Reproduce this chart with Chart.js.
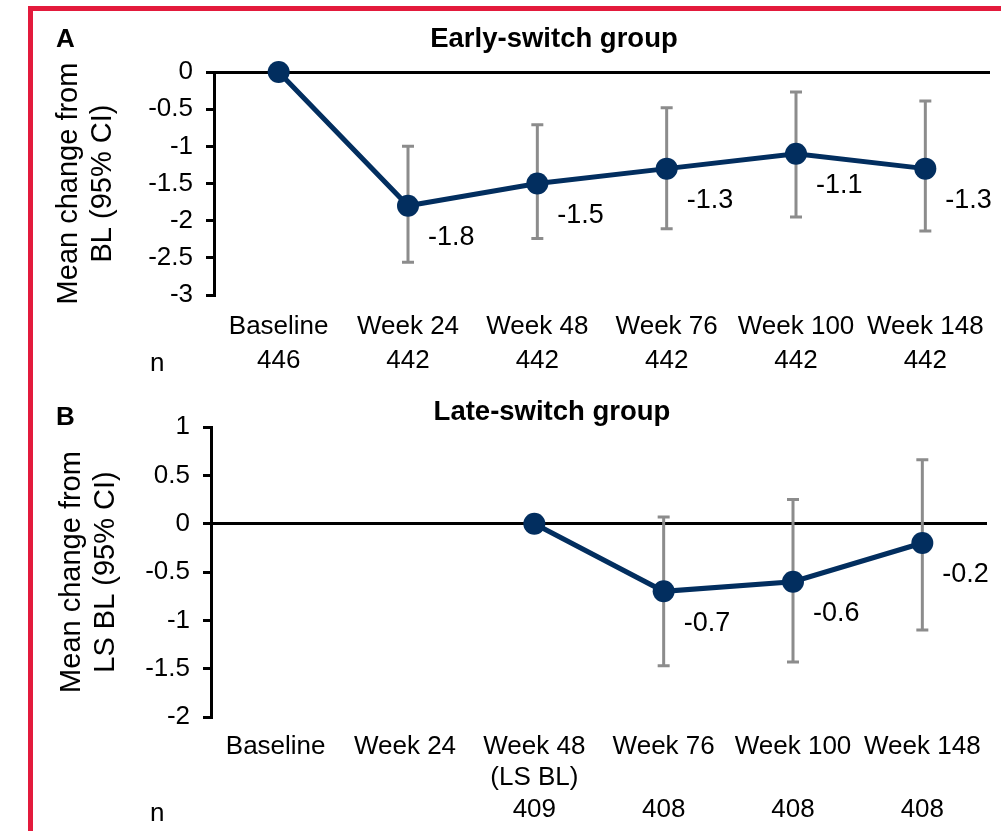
<!DOCTYPE html>
<html>
<head>
<meta charset="utf-8">
<script src="https://cdn.jsdelivr.net/npm/chart.js@4"></script>
<style>
  body { margin: 0; background: #fff; font-family: "Liberation Sans", Arial, sans-serif; }
  #page { position: relative; width: 1001px; height: 831px; overflow: hidden; }
  #frame {
    position: absolute; left: 28px; top: 6px; width: 1000px; height: 900px;
    border-left: 5px solid #e31a3c; border-top: 5px solid #e31a3c;
  }
  .box { position: absolute; left: 0; width: 1001px; }
  .txt { position: absolute; color: #000; line-height: 1; white-space: nowrap; }
  .bold { font-weight: bold; }
</style>
</head>
<body>
<div id="page">
  <div id="frame"></div>
  <div class="box" style="top:0;height:390px"><canvas id="chartA"></canvas></div>
  <div class="box" style="top:390px;height:441px"><canvas id="chartB"></canvas></div>

  <div class="txt bold" style="left:56px;top:25px;font-size:26px">A</div>
  <div class="txt bold" style="left:554px;top:24px;font-size:27.5px;transform:translateX(-50%)">Early-switch group</div>
  <div class="txt" style="left:150px;top:349px;font-size:26px">n</div>

  <div class="txt bold" style="left:56px;top:403px;font-size:26px">B</div>
  <div class="txt bold" style="left:552px;top:397px;font-size:27.5px;transform:translateX(-50%)">Late-switch group</div>
  <div class="txt" style="left:150px;top:799px;font-size:26px">n</div>
</div>

<script>
// panel A: early-switch group
const categoriesA = ["Baseline", "Week 24", "Week 48", "Week 76", "Week 100", "Week 148"];
const nA = ["446", "442", "442", "442", "442", "442"];
const meanA = [0, -1.8, -1.5, -1.3, -1.1, -1.3];
const lowerA = [null, -2.56, -2.24, -2.11, -1.95, -2.14];
const upperA = [null, -1.0, -0.71, -0.48, -0.27, -0.39];

// panel B: late-switch group
const categoriesB = ["Baseline", "Week 24", "Week 48", "Week 76", "Week 100", "Week 148"];
const subLabelsB = ["", "", "(LS BL)", "", "", ""];
const nB = ["", "", "409", "408", "408", "408"];
const meanB = [null, null, 0, -0.7, -0.6, -0.2];
const lowerB = [null, null, null, -1.47, -1.43, -1.10];
const upperB = [null, null, null, 0.07, 0.25, 0.66];

const FONT = "'Liberation Sans', Arial, sans-serif";
const NAVY = "#022e5f";
const GREY = "#8c8c8c";

const errorBars = {
  id: "errorBars",
  beforeDatasetsDraw(chart, args, opts) {
    const { ctx } = chart;
    const x = chart.scales.x;
    const y = chart.scales.y;
    ctx.save();
    ctx.strokeStyle = GREY;
    ctx.lineWidth = 3;
    opts.lower.forEach((lo, i) => {
      const hi = opts.upper[i];
      if (lo === null || hi === null) return;
      const px = x.getPixelForValue(i);
      const y1 = y.getPixelForValue(lo);
      const y2 = y.getPixelForValue(hi);
      ctx.beginPath();
      ctx.moveTo(px, y1);
      ctx.lineTo(px, y2);
      ctx.moveTo(px - 6, y1);
      ctx.lineTo(px + 6, y1);
      ctx.moveTo(px - 6, y2);
      ctx.lineTo(px + 6, y2);
      ctx.stroke();
    });
    ctx.restore();
  },
};

const valueLabels = {
  id: "valueLabels",
  afterDatasetsDraw(chart, args, opts) {
    const { ctx } = chart;
    const meta = chart.getDatasetMeta(0);
    const data = chart.data.datasets[0].data;
    ctx.save();
    ctx.font = `27px ${FONT}`;
    ctx.fillStyle = "#000";
    ctx.textAlign = "left";
    ctx.textBaseline = "middle";
    meta.data.forEach((pt, i) => {
      if (data[i] === null || opts.lower[i] === null) return;
      ctx.fillText(data[i].toFixed(1), pt.x + 20, pt.y + 32);
    });
    ctx.restore();
  },
};

function makeChart(id, opts) {
  return new Chart(document.getElementById(id), {
    type: "line",
    data: {
      labels: opts.labels,
      datasets: [{
        data: opts.values,
        borderColor: NAVY,
        backgroundColor: NAVY,
        borderWidth: 5,
        pointRadius: 11,
        pointHoverRadius: 11,
        pointBorderWidth: 0,
        tension: 0,
        spanGaps: false,
        clip: false,
      }],
    },
    options: {
      responsive: true,
      maintainAspectRatio: false,
      animation: false,
      events: [],
      layout: { padding: { top: opts.padTop, right: opts.padRight, left: 0, bottom: 0 } },
      plugins: {
        legend: { display: false },
        tooltip: { enabled: false },
        errorBars: { lower: opts.lower, upper: opts.upper },
        valueLabels: { lower: opts.lower },
      },
      scales: {
        x: {
          offset: true,
          grid: { display: false, drawTicks: false },
          border: { display: false },
          ticks: {
            color: "#000",
            padding: opts.tickPad,
            maxRotation: 0,
            autoSkip: false,
            font: { family: FONT, size: 26, lineHeight: opts.lineHeight },
          },
          afterFit(scale) { scale.height = opts.xHeight; },
        },
        y: {
          min: opts.min,
          max: opts.max,
          grid: {
            color: (c) => (c.tick && c.tick.value === 0 ? "#000" : "rgba(0,0,0,0)"),
            tickColor: "#000",
            lineWidth: 3,
            tickLength: 8,
          },
          border: { display: true, color: "#000", width: 3 },
          ticks: {
            stepSize: 0.5,
            autoSkip: false,
            color: "#000",
            padding: 13,
            font: { family: FONT, size: 26 },
            callback: (v) => String(Number(v.toFixed(1)) || 0),
          },
          title: {
            display: true,
            text: opts.yTitle,
            color: "#000",
            padding: { top: opts.titlePad, bottom: 0 },
            font: { family: FONT, size: 29, lineHeight: 1.17 },
          },
          afterFit(scale) { scale.width = opts.yWidth; },
        },
      },
    },
    plugins: [errorBars, valueLabels],
  });
}

makeChart("chartA", {
  labels: categoriesA.map((c, i) => [c, nA[i]]),
  values: meanA,
  lower: lowerA,
  upper: upperA,
  min: -3,
  max: 0,
  padTop: 72,
  padRight: 8,
  xHeight: 95,
  yWidth: 214,
  tickPad: 15,
  lineHeight: 1.31,
  titlePad: 52,
  yTitle: ["Mean change from", "BL (95% CI)"],
});

makeChart("chartB", {
  labels: categoriesB.map((c, i) => [c, subLabelsB[i], nB[i]]),
  values: meanB,
  lower: lowerB,
  upper: upperB,
  min: -2,
  max: 1,
  padTop: 37,
  padRight: 14,
  xHeight: 114,
  yWidth: 211,
  tickPad: 14,
  lineHeight: 1.21,
  titlePad: 55,
  yTitle: ["Mean change from", "LS BL (95% CI)"],
});
</script>
</body>
</html>
